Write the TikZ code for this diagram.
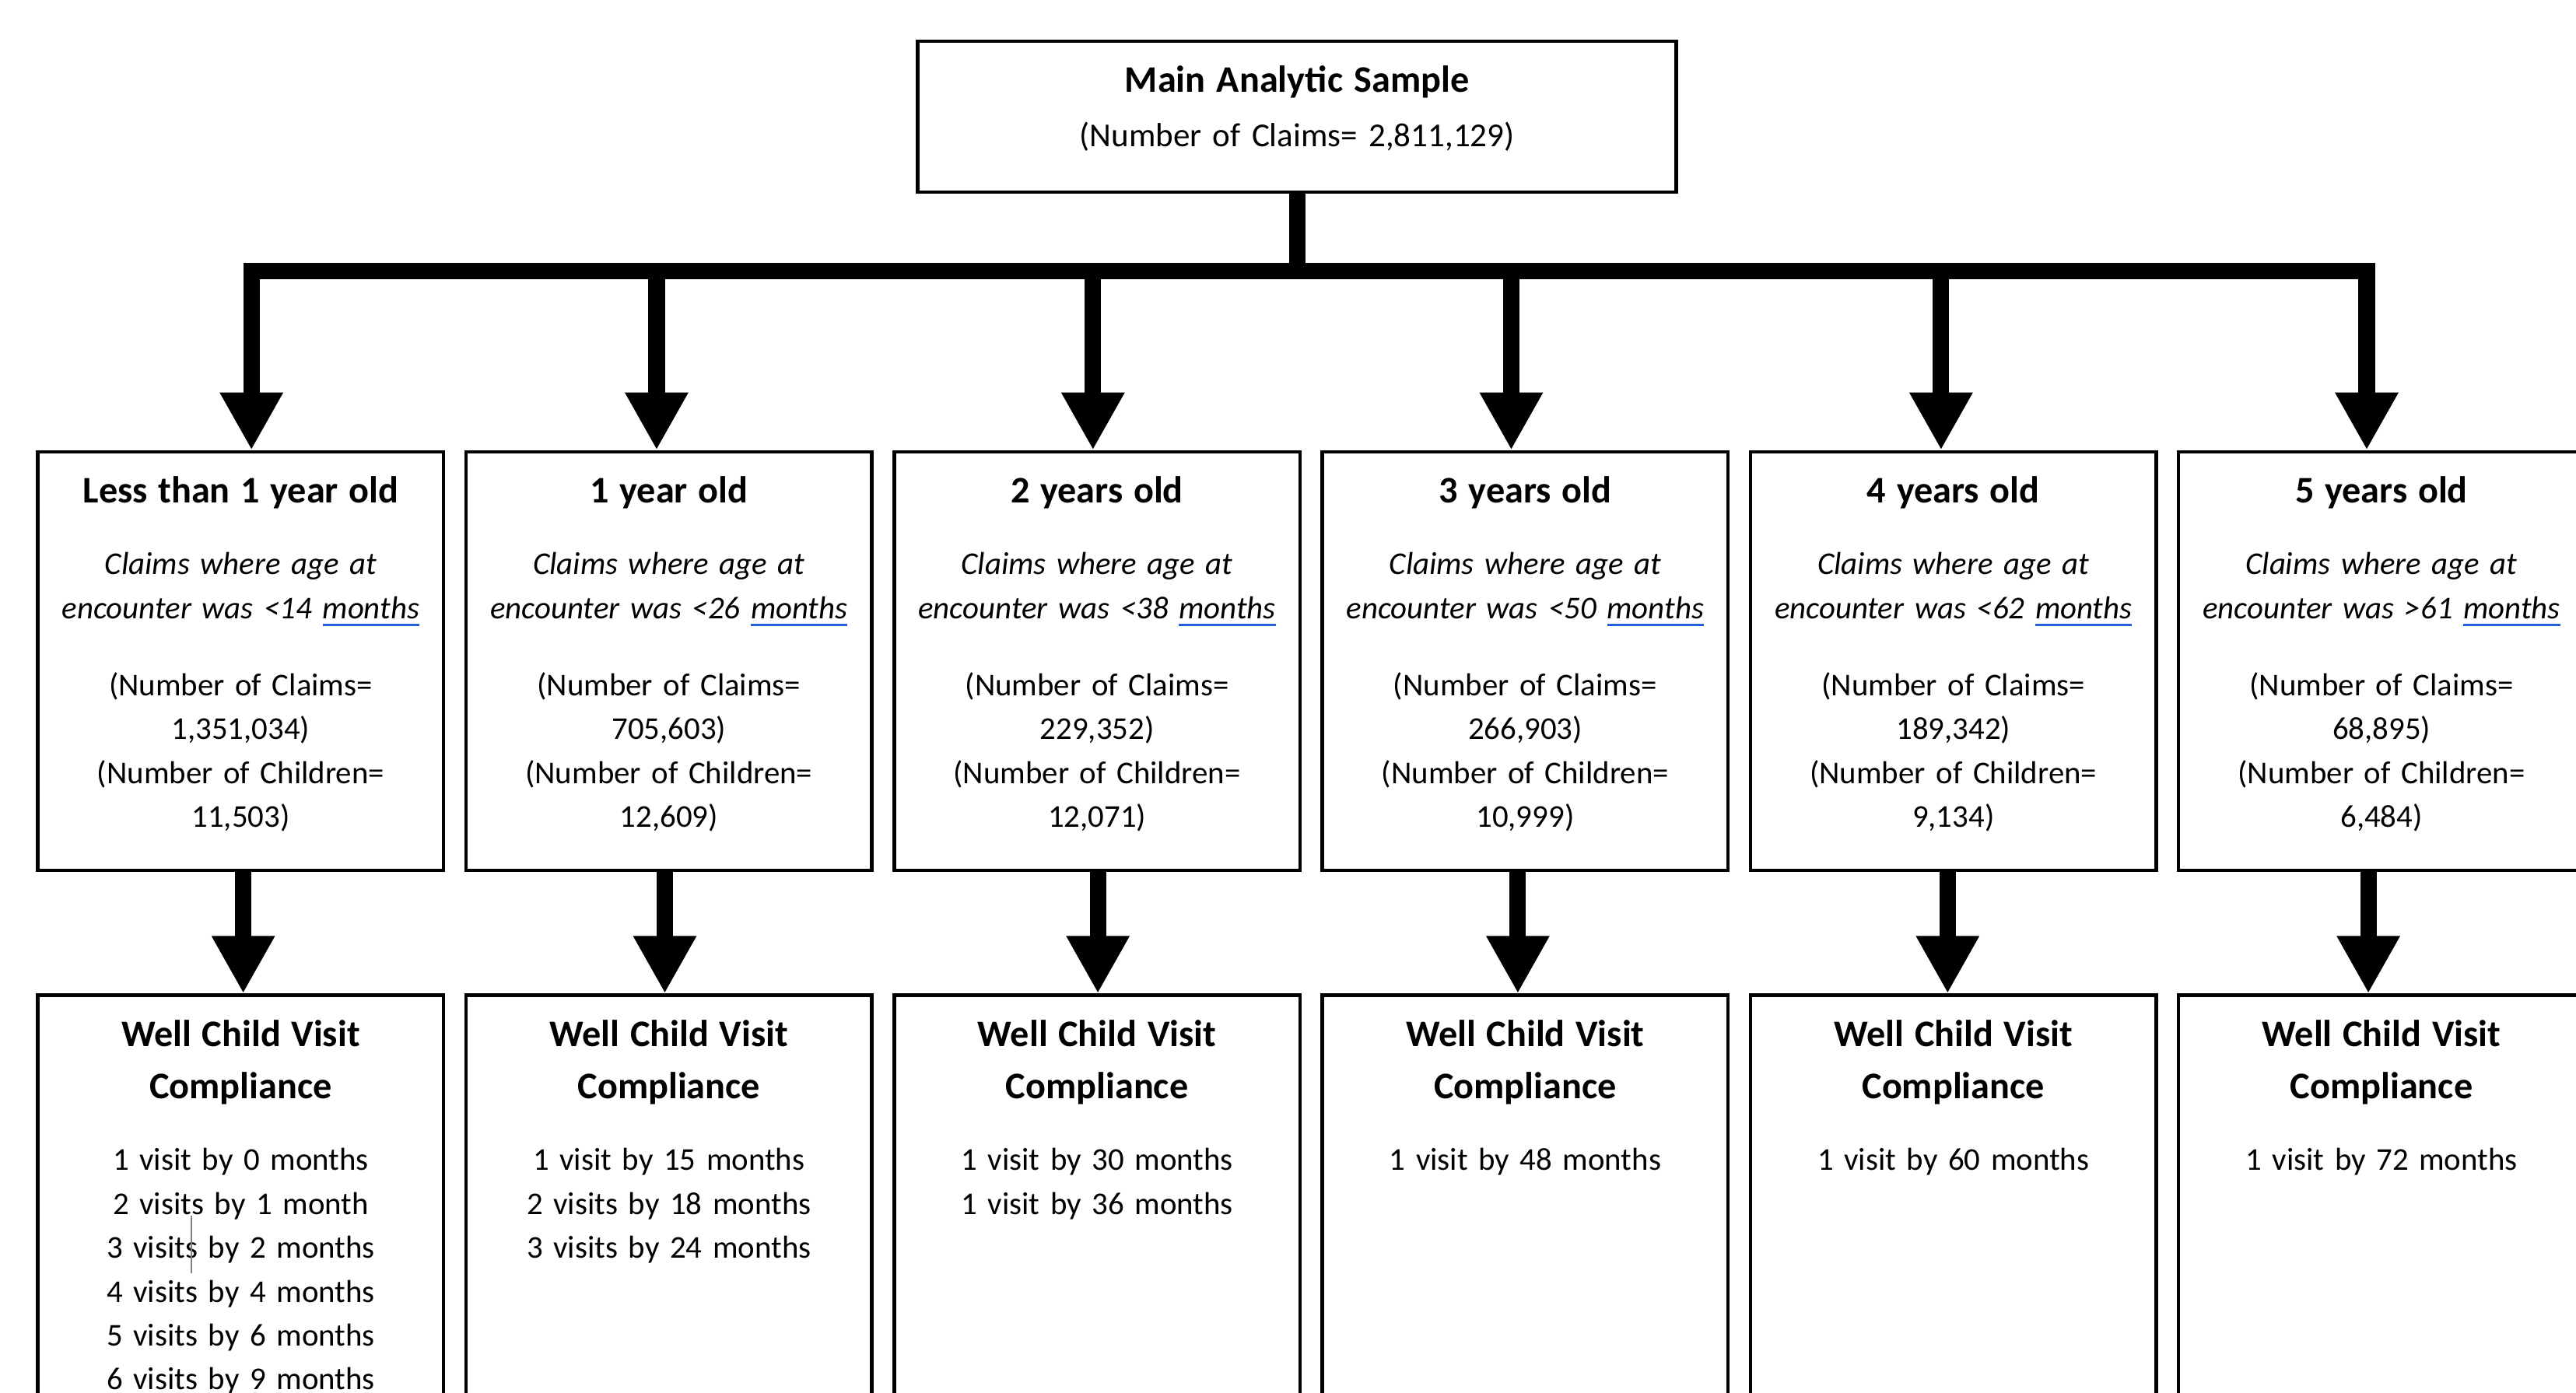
\documentclass[tikz,border=0pt]{standalone}
\usepackage{fontspec}
\setmainfont{Carlito}
\usetikzlibrary{arrows.meta,positioning}
\definecolor{linkblue}{RGB}{35,95,215}
\newsavebox{\ulbox}
\newcommand{\blueul}[1]{\sbox{\ulbox}{#1}\rlap{\color{linkblue}\rule[-2.8pt]{\wd\ulbox}{1pt}}\usebox{\ulbox}}
\newcommand{\ttl}{\fontsize{13}{15.2}\selectfont\bfseries}
\tikzset{fat/.style={line width=2mm, -{Triangle[length=7mm, width=7.2mm]}},
  rail/.style={line width=2mm, line cap=rect},
  cell/.style={draw, line width=1.2pt, align=center, inner ysep=8.6pt, anchor=north,
    font=\fontsize{11}{15.2}\selectfont},
  agebox/.style={cell, text width=4.6cm, minimum width=4.94cm, text depth=4.17cm},
  wcvbox/.style={cell, text width=4.6cm, minimum width=4.94cm, text depth=6cm}}

\begin{document}
\begin{tikzpicture}[node distance=2.3mm]
  \useasboundingbox (0,0) rectangle (31.36,-16.96);
  \node[cell, minimum width=9.14cm, text width=9cm, text depth=0.91cm,
    font=\fontsize{11.6}{15.2}\selectfont] (main) at (15.79,-0.48)
    {{\ttl Main Analytic Sample}\\[3.6pt](Number of Claims= 2,811,129)};
  % one box per age group, side by side
  \node[agebox, anchor=north west] (b0) at (0.44,-5.48)
    {{\ttl Less than 1 year old}\\[9.6pt]\textit{Claims where age at}\\
     \textit{encounter was <14 \blueul{months}}\\[11.6pt]
     (Number of Claims=\\1,351,034)\\(Number of Children=\\11,503)};
  \node[agebox, right=of b0] (b1)
    {{\ttl 1 year old}\\[9.6pt]\textit{Claims where age at}\\
     \textit{encounter was <26 \blueul{months}}\\[11.6pt]
     (Number of Claims=\\705,603)\\(Number of Children=\\12,609)};
  \node[agebox, right=of b1] (b2)
    {{\ttl 2 years old}\\[9.6pt]\textit{Claims where age at}\\
     \textit{encounter was <38 \blueul{months}}\\[11.6pt]
     (Number of Claims=\\229,352)\\(Number of Children=\\12,071)};
  \node[agebox, right=of b2] (b3)
    {{\ttl 3 years old}\\[9.6pt]\textit{Claims where age at}\\
     \textit{encounter was <50 \blueul{months}}\\[11.6pt]
     (Number of Claims=\\266,903)\\(Number of Children=\\10,999)};
  \node[agebox, right=of b3] (b4)
    {{\ttl 4 years old}\\[9.6pt]\textit{Claims where age at}\\
     \textit{encounter was <62 \blueul{months}}\\[11.6pt]
     (Number of Claims=\\189,342)\\(Number of Children=\\9,134)};
  \node[agebox, right=of b4] (b5)
    {{\ttl 5 years old}\\[9.6pt]\textit{Claims where age at}\\
     \textit{encounter was >61 \blueul{months}}\\[11.6pt]
     (Number of Claims=\\68,895)\\(Number of Children=\\6,484)};
  % compliance boxes run off the bottom edge
  \node[wcvbox, below=1.48cm of b0] (w0)
    {{\ttl Well Child Visit}\\[3pt]{\ttl Compliance}\\[9.6pt]
     1 visit by 0 months\\2 visits by 1 month\\3 visits by 2 months\\
     4 visits by 4 months\\5 visits by 6 months\\6 visits by 9 months};
  \node[wcvbox, below=1.48cm of b1] (w1)
    {{\ttl Well Child Visit}\\[3pt]{\ttl Compliance}\\[9.6pt]
     1 visit by 15 months\\2 visits by 18 months\\3 visits by 24 months};
  \node[wcvbox, below=1.48cm of b2] (w2)
    {{\ttl Well Child Visit}\\[3pt]{\ttl Compliance}\\[9.6pt]
     1 visit by 30 months\\1 visit by 36 months};
  \node[wcvbox, below=1.48cm of b3] (w3)
    {{\ttl Well Child Visit}\\[3pt]{\ttl Compliance}\\[9.6pt]1 visit by 48 months};
  \node[wcvbox, below=1.48cm of b4] (w4)
    {{\ttl Well Child Visit}\\[3pt]{\ttl Compliance}\\[9.6pt]1 visit by 60 months};
  \node[wcvbox, below=1.48cm of b5] (w5)
    {{\ttl Well Child Visit}\\[3pt]{\ttl Compliance}\\[9.6pt]1 visit by 72 months};
  % trunk, rail and drops (drops sit a little off the box centres)
  \coordinate (bar) at (0,-3.30);
  \foreach \n/\dx/\dy in {0/0.13/0.03, 1/-0.15/-0.05, 2/-0.05/0.01, 3/-0.17/-0.09,
      4/-0.15/-0.07, 5/-0.18/-0.16}{
    \coordinate (t\n) at ([xshift=\dx cm]b\n.north);
    \coordinate (s\n) at ([xshift=\dy cm]b\n.south);}
  \draw[line width=2mm] (main.south) -- (main.south |- bar);
  \draw[rail] (t0 |- bar) -- (t5 |- bar);
  \foreach \n in {0,...,5}{\draw[fat] (t\n |- bar) -- (t\n);
    \draw[fat] (s\n) -- (s\n |- w\n.north);}
  \draw[gray, line width=0.5pt] (2.33,-14.8) -- (2.33,-15.5);
\end{tikzpicture}
\end{document}
